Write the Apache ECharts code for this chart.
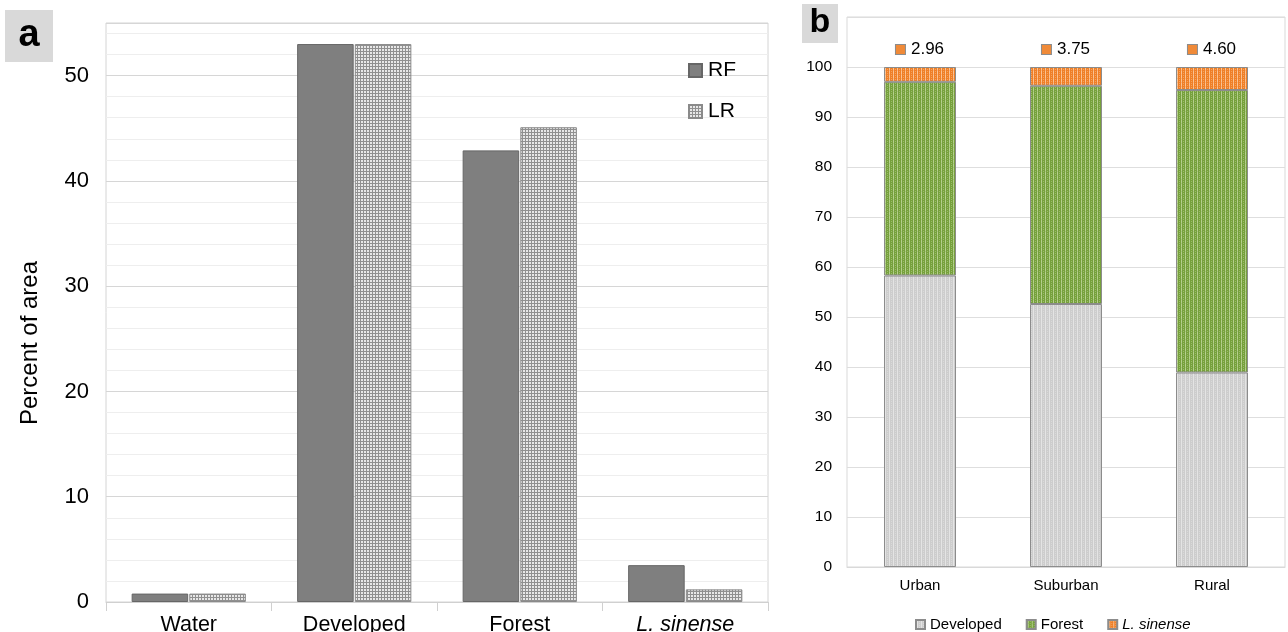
<!DOCTYPE html>
<html>
<head>
<meta charset="utf-8">
<script src="https://cdn.jsdelivr.net/npm/echarts@6/dist/echarts.min.js"></script>
<style>
  html, body { margin: 0; padding: 0; background: #fff; }
  #chart { width: 1288px; height: 632px; }
</style>
</head>
<body>
<div id="chart"></div>
<script>
// Panel a: land cover classes mapped by two classifiers
const coverClasses = ['Water', 'Developed', 'Forest', 'L. sinense'];
const rfPercent = [0.8, 53.0, 42.9, 3.5];
const lrPercent = [0.8, 53.0, 45.1, 1.2];

// Panel b: composition along the urban-rural gradient
const zones = ['Urban', 'Suburban', 'Rural'];
const developedPct = [58.3, 52.6, 38.9];
const forestPct = [38.74, 43.65, 56.5];
const sinensePct = [2.96, 3.75, 4.60];

const FONT = "'Liberation Sans', Arial, sans-serif";

// Small pixel patterns used as bar fills
function pattern(w, h, base, marks) {
  const c = document.createElement('canvas');
  c.width = w; c.height = h;
  const g = c.getContext('2d');
  g.fillStyle = base;
  g.fillRect(0, 0, w, h);
  marks.forEach(([x, y, col]) => { g.fillStyle = col; g.fillRect(x, y, 1, 1); });
  return c;
}
function gridMarks(w, h, col, extra) {
  const m = [];
  for (let x = 0; x < w; x++) m.push([x, 0, col]);
  for (let y = 0; y < h; y++) m.push([0, y, col]);
  return m.concat(extra || []);
}

const lrCanvas = pattern(3, 3, '#e8e8e8', gridMarks(3, 3, '#909090'));
const devCanvas = pattern(4, 4, '#cdcdcd', [[1,0,'#e4e4e4'],[1,1,'#e4e4e4'],[1,2,'#e4e4e4'],[1,3,'#e4e4e4'],[3,1,'#dadada'],[3,3,'#dadada']]);
const forCanvas = pattern(4, 4, '#76a03c', [[1,0,'#b6d08e'],[1,1,'#b6d08e'],[1,2,'#b6d08e'],[1,3,'#a4c47a'],[3,1,'#9abd6a'],[3,3,'#9abd6a']]);
const sinCanvas = pattern(4, 4, '#ef7f26', [[1,0,'#fac394'],[1,1,'#fac394'],[1,2,'#f8b07a'],[1,3,'#fac394'],[3,1,'#f5a060'],[3,3,'#f5a060']]);

const pat = (cv) => ({ image: cv, repeat: 'repeat' });

const chart = echarts.init(document.getElementById('chart'), null, { renderer: 'canvas' });

chart.setOption({
  animation: false,
  backgroundColor: '#ffffff',
  textStyle: { fontFamily: FONT },
  graphic: [
    { type: 'rect', shape: { x: 5, y: 10, width: 48, height: 52 }, style: { fill: '#d9d9d9' } },
    { type: 'text', x: 29, y: 36, style: { text: 'a', font: "bold 38px " + FONT, fill: '#000', align: 'center', verticalAlign: 'middle' } },
    { type: 'rect', shape: { x: 802, y: 4, width: 36, height: 39 }, style: { fill: '#d9d9d9' } },
    { type: 'text', x: 820, y: 23, style: { text: 'b', font: "bold 34px " + FONT, fill: '#000', align: 'center', verticalAlign: 'middle' } },
    // y-axis title of panel a
    { type: 'text', x: 30, y: 343, rotation: Math.PI / 2,
      style: { text: 'Percent of area', font: "24px " + FONT, fill: '#000', align: 'center', verticalAlign: 'middle' } }
  ],
  grid: [
    { left: 106, top: 23, width: 662, height: 579, show: true, borderColor: '#d4d4d4', borderWidth: 1,
      containLabel: false, outerBoundsMode: 'none' },
    { left: 847, top: 17, width: 438, height: 550, show: true, borderColor: '#d9d9d9', borderWidth: 1,
      containLabel: false, outerBoundsMode: 'none' }
  ],
  legend: [
    {
      data: ['RF', 'LR'],
      orient: 'vertical',
      icon: 'rect',
      left: 683, top: 55,
      itemWidth: 13, itemHeight: 13, itemGap: 20,
      textStyle: { fontSize: 21, color: '#000', fontFamily: FONT, padding: [0, 0, 0, 1] }
    },
    {
      data: ['Developed', 'Forest', 'L. sinense'],
      orient: 'horizontal',
      icon: 'rect',
      left: 910, top: 612,
      itemWidth: 9, itemHeight: 9, itemGap: 24,
      formatter: (n) => n === 'L. sinense' ? '{it|' + n + '}' : n,
      textStyle: {
        fontSize: 15, color: '#000', fontFamily: FONT,
        rich: { it: { fontSize: 15, fontStyle: 'italic', color: '#000', fontFamily: FONT } }
      }
    }
  ],
  xAxis: [
    {
      type: 'category', gridIndex: 0, data: coverClasses,
      axisLine: { lineStyle: { color: '#d0d0d0' } },
      axisTick: { show: true, length: 9, lineStyle: { color: '#d0d0d0' } },
      axisLabel: {
        interval: 0, hideOverlap: false,
        fontSize: 21.5, color: '#000', margin: 12, fontFamily: FONT,
        formatter: (v) => v === 'L. sinense' ? '{it|' + v + '}' : v,
        rich: { it: { fontSize: 21.5, fontStyle: 'italic', color: '#000', fontFamily: FONT } }
      }
    },
    {
      type: 'category', gridIndex: 1, data: zones,
      axisLine: { lineStyle: { color: '#d9d9d9' } },
      axisTick: { show: false },
      axisLabel: { interval: 0, fontSize: 15, color: '#000', margin: 11, fontFamily: FONT }
    }
  ],
  yAxis: [
    {
      type: 'value', gridIndex: 0, min: 0, max: 55, interval: 10,
      axisLine: { show: false }, axisTick: { show: false },
      axisLabel: { fontSize: 22, color: '#000', margin: 17, showMaxLabel: false, fontFamily: FONT },
      splitLine: { lineStyle: { color: '#d6d6d6' } },
      minorTick: { show: false, splitNumber: 5 },
      minorSplitLine: { show: true, lineStyle: { color: '#eeeeee' } }
    },
    {
      type: 'value', gridIndex: 1, min: 0, max: 110, interval: 10,
      axisLine: { show: false }, axisTick: { show: false },
      axisLabel: { fontSize: 15.5, color: '#000', margin: 15, showMaxLabel: false, fontFamily: FONT },
      splitLine: { lineStyle: { color: '#dedede' } }
    }
  ],
  series: [
    {
      name: 'RF', type: 'bar', xAxisIndex: 0, yAxisIndex: 0, data: rfPercent,
      barCategoryGap: '31%', barGap: '2%',
      itemStyle: { color: '#7f7f7f', borderColor: '#666666', borderWidth: 1 }
    },
    {
      name: 'LR', type: 'bar', xAxisIndex: 0, yAxisIndex: 0, data: lrPercent,
      barCategoryGap: '31%', barGap: '2%',
      itemStyle: { color: pat(lrCanvas), borderColor: '#8a8a8a', borderWidth: 1 }
    },
    {
      name: 'Developed', type: 'bar', stack: 'zone', xAxisIndex: 1, yAxisIndex: 1, data: developedPct,
      barWidth: 72,
      itemStyle: { color: pat(devCanvas), borderColor: '#8c8c8c', borderWidth: 1 }
    },
    {
      name: 'Forest', type: 'bar', stack: 'zone', xAxisIndex: 1, yAxisIndex: 1, data: forestPct,
      barWidth: 72,
      itemStyle: { color: pat(forCanvas), borderColor: '#8c8c8c', borderWidth: 1 }
    },
    {
      name: 'L. sinense', type: 'bar', stack: 'zone', xAxisIndex: 1, yAxisIndex: 1, data: sinensePct,
      barWidth: 72,
      itemStyle: { color: pat(sinCanvas), borderColor: '#8c8c8c', borderWidth: 1 },
      label: {
        show: true, position: 'top', distance: 9,
        formatter: (p) => '{i|}{s|}{v|' + p.value.toFixed(2) + '}',
        rich: {
          i: { width: 9, height: 9, backgroundColor: '#f08a38', borderColor: '#8c8c8c', borderWidth: 1 },
          s: { width: 6 },
          v: { fontSize: 17, color: '#000', fontFamily: FONT }
        }
      }
    }
  ]
});
</script>
</body>
</html>
